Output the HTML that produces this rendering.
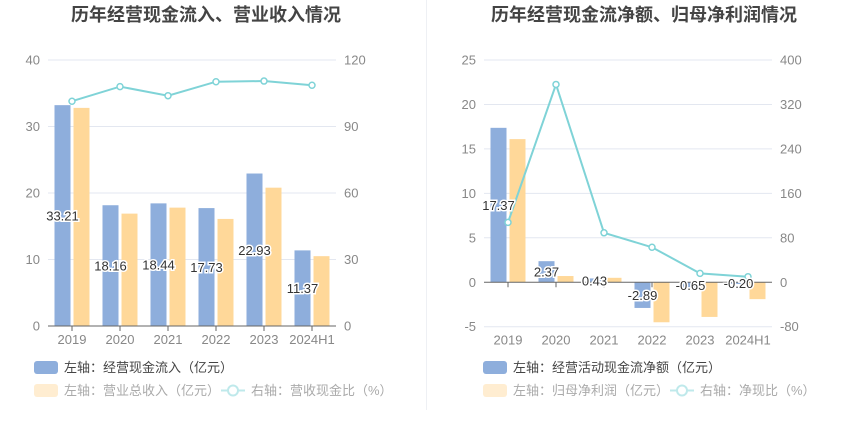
<!DOCTYPE html>
<html><head><meta charset="utf-8">
<style>
html,body{margin:0;padding:0;background:#fff;}
svg{display:block;font-family:"Liberation Sans","Noto Sans CJK SC",sans-serif;}
</style></head>
<body>
<svg id="c" width="850" height="437" viewBox="0 0 850 437">
<line x1="426.5" y1="0" x2="426.5" y2="410" stroke="#eef0f4" stroke-width="1"/>
<text x="206" y="21" text-anchor="middle" font-size="18" font-weight="bold" fill="#444">历年经营现金流入、营业收入情况</text>
<text x="644" y="21" text-anchor="middle" font-size="18" font-weight="bold" fill="#444">历年经营现金流净额、归母净利润情况</text>
</svg>
<script>
const categories = ["2019","2020","2021","2022","2023","2024H1"];
const leftBlue = [33.21,18.16,18.44,17.73,22.93,11.37];
const leftYellow = [32.8,16.9,17.8,16.1,20.8,10.5];
const leftLine = [101.4,108,103.9,110.2,110.5,108.6];
const leftTicksL = [0,10,20,30,40];
const leftTicksR = [0,30,60,90,120];
const rightBlue = [17.37,2.37,0.43,-2.89,-0.65,-0.20];
const rightYellow = [16.1,0.7,0.5,-4.5,-3.9,-1.9];
const rightLine = [107.7,356,89,63,16,10];
const rightTicksL = [-5,0,5,10,15,20,25];
const rightTicksR = [-80,0,80,160,240,320,400];

const NS="http://www.w3.org/2000/svg";
const svg=document.getElementById('c');
function mk(tag,attrs,parent){const e=document.createElementNS(NS,tag);for(const k in attrs)e.setAttribute(k,attrs[k]);(parent||svg).appendChild(e);return e;}

function drawChart(o){
  const g=mk('g',{});
  
  
  const yL=v=>o.top+(o.lmax-v)/(o.lmax-o.lmin)*(o.bottom-o.top);
  const yR=v=>o.top+(o.rmax-v)/(o.rmax-o.rmin)*(o.bottom-o.top);
  const band=(o.x1-o.x0)/categories.length;
  const xC=i=>o.x0+band*(i+0.5);
  o.ticksL.forEach((t,i)=>{
    const y=yL(t);
    if(t!==0){const gl=mk('line',{x1:o.x0,x2:o.x1,y1:y,y2:y,stroke:'#e3e7f0','stroke-width':1},g);
    
    }
    const tx=mk('text',{x:o.x0-8,y:y+4.5,'text-anchor':'end','font-size':13,fill:'#888'},g);
    tx.textContent=t;
    
    
  });
  o.ticksR.forEach(t=>{
    const y=yR(t);
    const tx=mk('text',{x:o.x1+8,y:y+4.5,'text-anchor':'start','font-size':13,fill:'#888'},g);
    tx.textContent=t;
    
    
  });
  const z=yL(0);
  categories.forEach((c,i)=>{
    const cx=xC(i);
    const bv=o.blue[i], yv=o.yellow[i];
    const b=mk('rect',{x:cx-17.5,y:Math.min(yL(bv),z),width:16,height:Math.abs(yL(bv)-z),fill:'#8eaedc'},g);
    
    
    const yb=mk('rect',{x:cx+1.5,y:Math.min(yL(yv),z),width:16,height:Math.abs(yL(yv)-z),fill:'#ffd899'},g);
    
    
    const tl=mk('text',{x:cx,y:o.bottom+18,'text-anchor':'middle','font-size':13,fill:'#888'},g);
    tl.textContent=c;
    
    
    const tk=mk('line',{x1:cx,x2:cx,y1:z,y2:z+5,stroke:'#666'},g);
    
    
  });
  const ax=mk('line',{x1:o.x0,x2:o.x1,y1:z,y2:z,stroke:'#666','stroke-width':1},g);
  
  
  const pts=o.line.map((v,i)=>xC(i)+','+yR(v)).join(' ');
  const pl=mk('polyline',{points:pts,fill:'none',stroke:'#7fd3d7','stroke-width':2},g);
  
  
  o.line.forEach((v,i)=>{
    const p=mk('circle',{cx:xC(i),cy:yR(v),r:3,fill:'#fff',stroke:'#7fd3d7','stroke-width':1.5},g);
    
    
  });
  categories.forEach((c,i)=>{
    const bv=o.blue[i];
    const ly=(yL(bv)+z)/2;
    const t=mk('text',{x:xC(i)-9.5,y:ly+5,'text-anchor':'middle','font-size':13,fill:'#333',stroke:'#fff','stroke-width':3,'paint-order':'stroke'},g);
    t.textContent=bv.toFixed(2);
    
    
  });
  const l1=mk('rect',{x:o.lx,y:361,width:24,height:13,rx:3,fill:'#8eaedc'},g);
  
  
  const t1=mk('text',{x:o.lx+30,y:372,'font-size':13,fill:'#444'},g);
  t1.textContent=o.leg[0];
  
  
  const l2=mk('rect',{x:o.lx,y:384,width:24,height:13,rx:3,fill:'#ffd899',opacity:0.45},g);
  
  
  const t2=mk('text',{x:o.lx+30,y:395,'font-size':13,fill:'#aaa'},g);
  t2.textContent=o.leg[1];
  
  
  const ll=mk('line',{x1:o.lx2,x2:o.lx2+24,y1:390.5,y2:390.5,stroke:'#bfe9eb','stroke-width':2},g);
  
  
  const lc=mk('circle',{cx:o.lx2+12,cy:390.5,r:5,fill:'#fff',stroke:'#bfe9eb','stroke-width':2},g);
  
  
  const t3=mk('text',{x:o.lx2+30,y:395,'font-size':13,fill:'#aaa'},g);
  t3.textContent=o.leg[2];
  
  
}
drawChart({name:'left-chart',x0:48,x1:336,top:60,bottom:326,lmin:0,lmax:40,rmin:0,rmax:120,
  blue:leftBlue,yellow:leftYellow,line:leftLine,ticksL:leftTicksL,ticksR:leftTicksR,
  lx:34,lx2:221,leg:['左轴：经营现金流入（亿元）','左轴：营业总收入（亿元）','右轴：营收现金比（%）']});
drawChart({name:'right-chart',x0:484,x1:772,top:60,bottom:326.7,lmin:-5,lmax:25,rmin:-80,rmax:400,
  blue:rightBlue,yellow:rightYellow,line:rightLine,ticksL:rightTicksL,ticksR:rightTicksR,
  lx:483,lx2:670,leg:['左轴：经营活动现金流净额（亿元）','左轴：归母净利润（亿元）','右轴：净现比（%）']});
</script>
</body></html>
